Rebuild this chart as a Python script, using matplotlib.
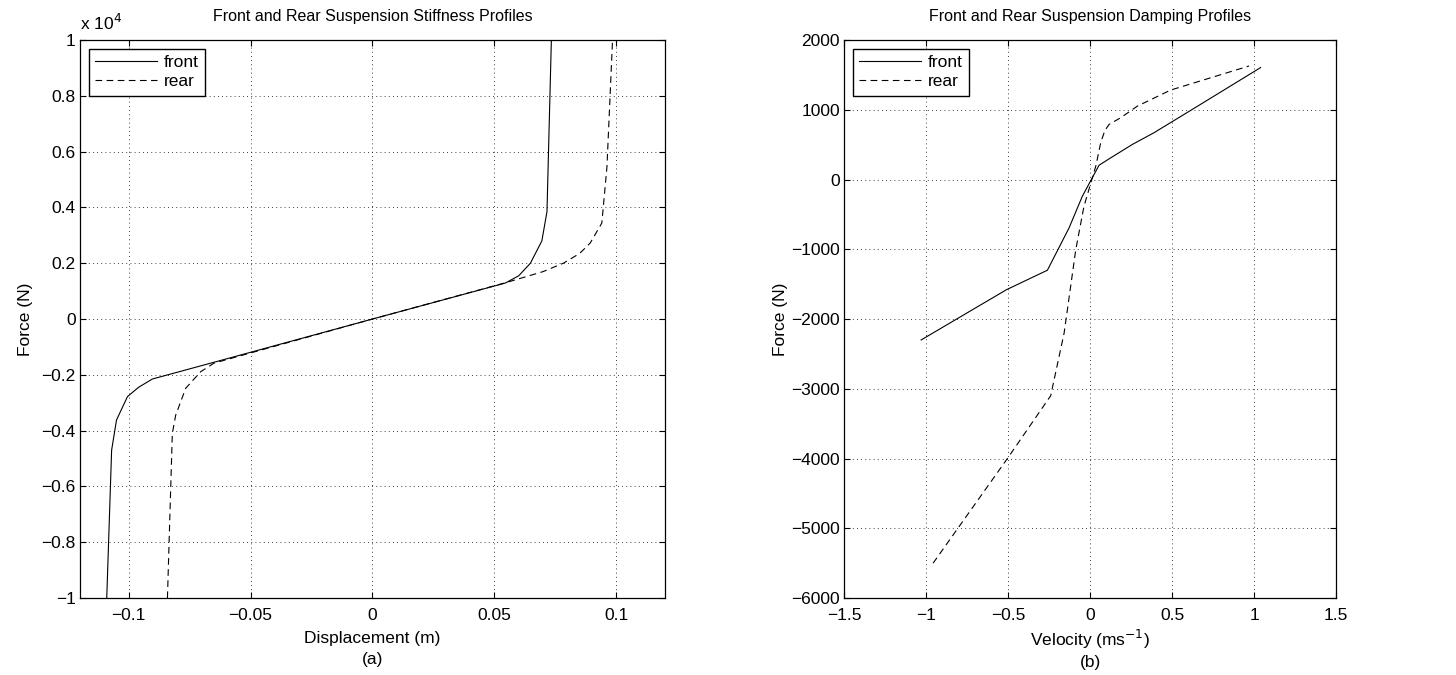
import matplotlib
matplotlib.use('Agg')
import matplotlib.pyplot as plt
from matplotlib.ticker import FuncFormatter

plt.rcParams['font.family'] = ['Liberation Sans', 'DejaVu Sans']
plt.rcParams['font.size'] = 12.5

# raideur (stiffness) - deplacement en m, force en N
front_disp = [-0.109, -0.107, -0.105, -0.1005, -0.096, -0.0903, -0.06, 0.0,
              0.0545, 0.06, 0.0648, 0.0695, 0.0716, 0.0734]
front_force = [-10000, -4700, -3620, -2780, -2450, -2150, -1430, 0,
               1290, 1550, 2000, 2800, 3850, 10000]
rear_disp = [-0.0841, -0.0821, -0.0807, -0.0766, -0.0705, -0.065, 0.0,
             0.055, 0.07, 0.0783, 0.085, 0.0893, 0.0941, 0.0962, 0.0985]
rear_force = [-10000, -4100, -3440, -2480, -1890, -1580, 0,
              1310, 1700, 2000, 2350, 2720, 3440, 5450, 10000]

# amortissement (damping) - vitesse en m/s, force en N
front_vel = [-1.03, -0.51, -0.26, -0.128, -0.047, 0.055, 0.126, 0.258, 0.39,
             0.624, 1.04]
front_damp = [-2300, -1580, -1300, -694, -240, 205, 311, 503, 671, 1006, 1605]
rear_vel = [-0.957, -0.504, -0.24, -0.158, -0.087, -0.037, 0.035, 0.065,
            0.09, 0.116, 0.187, 0.289, 0.492, 0.97]
rear_damp = [-5500, -4000, -3100, -2200, -1006, -384, 191, 527,
             700, 790, 886, 1053, 1283, 1628]

scale = 1e4

fig = plt.figure(figsize=(14.56, 6.75), dpi=100)
ax1 = fig.add_axes([0.0549, 0.114, 0.4018, 0.8267])
ax2 = fig.add_axes([0.5797, 0.114, 0.3379, 0.8267])

dash = (0, (6, 4))

ax1.plot(front_disp, [f / scale for f in front_force], color='k', lw=0.8, label='front')
ax1.plot(rear_disp, [f / scale for f in rear_force], color='k', lw=0.8,
         linestyle=dash, label='rear')
ax1.set_xlim(-0.12, 0.12)
ax1.set_ylim(-1, 1)
ax1.set_xticks([-0.1, -0.05, 0, 0.05, 0.1])
ax1.set_yticks([-1, -0.8, -0.6, -0.4, -0.2, 0, 0.2, 0.4, 0.6, 0.8, 1])
ax1.set_title('Front and Rear Suspension Stiffness Profiles', fontsize=11.5, pad=14)
ax1.set_xlabel('Displacement (m)\n(a)', labelpad=6, linespacing=1.45)
ax1.set_ylabel('Force (N)', labelpad=6)
ax1.text(0.0, 1.012, r'x 10$^4$', transform=ax1.transAxes, ha='left', va='bottom')

ax2.plot(front_vel, front_damp, color='k', lw=0.8, label='front')
ax2.plot(rear_vel, rear_damp, color='k', lw=0.8, linestyle=dash, label='rear')
ax2.set_xlim(-1.5, 1.5)
ax2.set_ylim(-6000, 2000)
ax2.set_xticks([-1.5, -1, -0.5, 0, 0.5, 1, 1.5])
ax2.set_yticks(range(-6000, 2001, 1000))
ax2.set_title('Front and Rear Suspension Damping Profiles', fontsize=11.5, pad=14)
ax2.set_xlabel('Velocity (ms$^{-1}$)\n(b)', labelpad=4, linespacing=1.3)
ax2.set_ylabel('Force (N)', labelpad=2)

fmt = FuncFormatter(lambda v, p: ('%g' % v).replace('-', '\u2212'))
for ax in (ax1, ax2):
    ax.xaxis.set_major_formatter(fmt)
    ax.yaxis.set_major_formatter(fmt)
    ax.grid(True, color='k', linestyle=(0, (1, 4)), lw=0.6)
    ax.tick_params(direction='in', top=True, right=True, length=4, width=0.8)
    ax.tick_params(axis='x', pad=7)
    ax.tick_params(axis='y', pad=3)
    for s in ax.spines.values():
        s.set_linewidth(0.9)
    leg = ax.legend(loc='upper left', fancybox=False, framealpha=1,
                    edgecolor='k', handlelength=3.6, borderpad=0.35,
                    labelspacing=0.25, handletextpad=0.4, borderaxespad=0.5)
    leg.get_frame().set_linewidth(1.0)

fig.savefig('out.png', dpi=100)
